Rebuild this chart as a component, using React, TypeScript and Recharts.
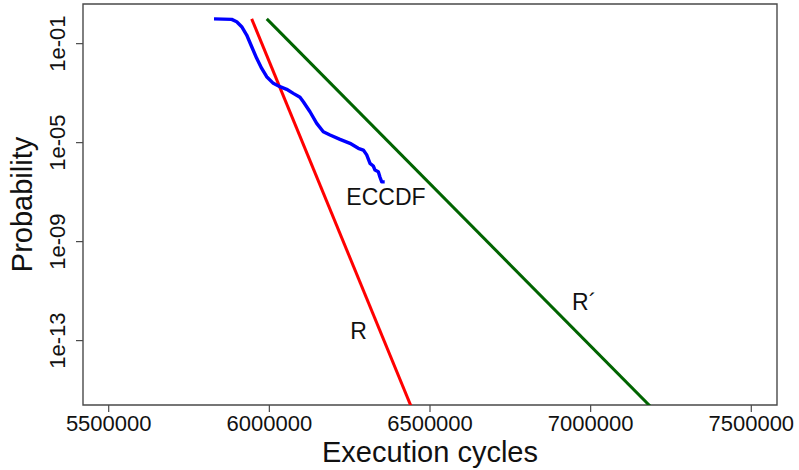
import React from "react";
import {
  LineChart,
  Line,
  XAxis,
  YAxis,
  ReferenceArea,
  ReferenceDot,
  Label,
} from "recharts";

// Empirical complementary CDF of the measured execution cycles
const eccdfCycles = [
  5827700, 5882800, 5898400, 5913900, 5929500, 5945100, 5960600, 5976200,
  5991700, 6012300, 6033100, 6054000, 6074500, 6095400, 6105700, 6126500,
  6147400, 6167900, 6188800, 6219900, 6251000, 6276800, 6292400, 6303000,
  6313300, 6323500, 6328800, 6339100, 6344400, 6349700, 6359000,
];
const eccdfProb = [
  1, 0.955, 0.767, 0.482, 0.223, 0.075, 0.0255, 0.01, 0.0046, 0.00249,
  0.00182, 0.00143, 0.00098, 0.00068, 0.00045, 0.000177, 6.0e-5, 2.76e-5,
  2.03e-5, 1.36e-5, 9.4e-6, 5.9e-6, 5.0e-6, 3.2e-6, 1.46e-6, 1.14e-6, 7.8e-7,
  6.7e-7, 4.0e-7, 2.6e-7, 2.6e-7,
];

// Fitted exceedance curve R
const rCycles = [5945000, 6452000];
const rProb = [1, 1e-16];

// Fitted exceedance curve R´
const rPrimeCycles = [5992000, 7212000];
const rPrimeProb = [1, 1e-16];

// Axes
const xDomain = [5420000, 7580000];
const xTicks = [5500000, 6000000, 6500000, 7000000, 7500000];
const xTickLabels = ["5500000", "6000000", "6500000", "7000000", "7500000"];
const yDomain = [2.5e-16, 4];
const yTicks = [1e-1, 1e-5, 1e-9, 1e-13];
const yTickLabels = ["1e-01", "1e-05", "1e-09", "1e-13"];

// Curve annotations
const noteLabels = ["ECCDF", "R", "R´"];
const noteCycles = [6363000, 6278000, 6980000];
const noteProb = [6.5e-8, 2.5e-13, 3.5e-12];

const FONT = "'Liberation Sans', Arial, Helvetica, sans-serif";
const FRAME = "#4a4a4a";

const toRows = (xs: number[], ps: number[]) =>
  xs.map((x, i) => ({ x, p: ps[i] }));

const eccdfData = toRows(eccdfCycles, eccdfProb);
const rData = toRows(rCycles, rProb);
const rPrimeData = toRows(rPrimeCycles, rPrimeProb);

const XTick = (props: any) => {
  const { x, y, payload } = props;
  const idx = xTicks.indexOf(payload.value);
  return (
    <text
      x={x}
      y={y + 19}
      textAnchor="middle"
      fontFamily={FONT}
      fontSize={22}
      fill="#111"
    >
      {idx >= 0 ? xTickLabels[idx] : payload.value}
    </text>
  );
};

const YTick = (props: any) => {
  const { x, y, payload } = props;
  const idx = yTicks.indexOf(payload.value);
  const bx = x - 11;
  return (
    <text
      x={bx}
      y={y}
      transform={`rotate(-90, ${bx}, ${y})`}
      textAnchor="middle"
      fontFamily={FONT}
      fontSize={22}
      fill="#111"
    >
      {idx >= 0 ? yTickLabels[idx] : payload.value}
    </text>
  );
};

const noteShape = (label: string) => (props: any) => {
  const { cx, cy } = props;
  return (
    <text
      x={cx}
      y={cy + 8}
      textAnchor="middle"
      fontFamily={FONT}
      fontSize={23}
      fill="#111"
    >
      {label}
    </text>
  );
};

export default function App() {
  return (
    <div style={{ position: "absolute", left: 0, top: 0, background: "#fff" }}>
      <LineChart
        width={799}
        height={470}
        margin={{ top: 4, right: 22, bottom: 0, left: 0 }}
      >
        <XAxis
          type="number"
          dataKey="x"
          domain={xDomain}
          ticks={xTicks}
          allowDataOverflow
          height={65}
          axisLine={false}
          tickLine={{ stroke: FRAME, strokeWidth: 1.2 }}
          tickSize={7}
          tickMargin={0}
          tick={<XTick />}
          interval={0}
        >
          <Label
            content={(p: any) => {
              const vb = p.viewBox;
              return (
                <text
                  x={vb.x + vb.width / 2}
                  y={vb.y + 57}
                  textAnchor="middle"
                  fontFamily={FONT}
                  fontSize={29}
                  fill="#111"
                >
                  Execution cycles
                </text>
              );
            }}
          />
        </XAxis>
        <YAxis
          type="number"
          dataKey="p"
          scale="log"
          domain={yDomain}
          ticks={yTicks}
          allowDataOverflow
          width={83}
          axisLine={false}
          tickLine={{ stroke: FRAME, strokeWidth: 1.2 }}
          tickSize={7}
          tickMargin={0}
          tick={<YTick />}
          interval={0}
        >
          <Label
            content={(p: any) => {
              const vb = p.viewBox;
              const bx = vb.x + 32;
              const cy = vb.y + vb.height / 2;
              return (
                <text
                  x={bx}
                  y={cy}
                  transform={`rotate(-90, ${bx}, ${cy})`}
                  textAnchor="middle"
                  fontFamily={FONT}
                  fontSize={29}
                  fill="#111"
                >
                  Probability
                </text>
              );
            }}
          />
        </YAxis>
        <ReferenceArea
          x1={xDomain[0]}
          x2={xDomain[1]}
          y1={yDomain[0]}
          y2={yDomain[1]}
          fill="none"
          stroke={FRAME}
          strokeWidth={1.4}
          ifOverflow="visible"
        />
        <Line
          data={rData}
          dataKey="p"
          stroke="#ff0000"
          strokeWidth={3}
          dot={false}
          activeDot={false}
          isAnimationActive={false}
        />
        <Line
          data={rPrimeData}
          dataKey="p"
          stroke="#006400"
          strokeWidth={3}
          dot={false}
          activeDot={false}
          isAnimationActive={false}
        />
        <Line
          data={eccdfData}
          dataKey="p"
          stroke="#0000ff"
          strokeWidth={3.4}
          strokeLinejoin="round"
          dot={false}
          activeDot={false}
          isAnimationActive={false}
        />
        {noteLabels.map((label, i) => (
          <ReferenceDot
            key={label}
            x={noteCycles[i]}
            y={noteProb[i]}
            r={1}
            ifOverflow="visible"
            shape={noteShape(label)}
          />
        ))}
      </LineChart>
    </div>
  );
}
